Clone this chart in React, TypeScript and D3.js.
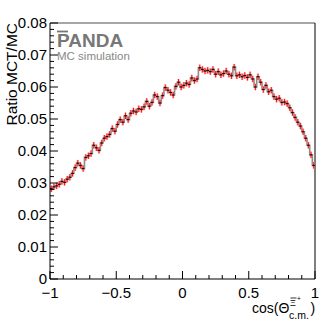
import React from "react";
import * as d3 from "d3";

const binValues: number[] = [
  0.0282, 0.0288, 0.0291, 0.0296, 0.0305, 0.0302, 0.0312, 0.0318, 0.0330, 0.0348,
  0.0362, 0.0355, 0.0345, 0.0380, 0.0385, 0.0392, 0.0418, 0.0410, 0.0402, 0.0425,
  0.0440, 0.0445, 0.0452, 0.0470, 0.0462, 0.0483, 0.0498, 0.0490, 0.0510, 0.0498,
  0.0518, 0.0525, 0.0522, 0.0532, 0.0530, 0.0538, 0.0555, 0.0540, 0.0552, 0.0575,
  0.0570, 0.0550, 0.0573, 0.0598, 0.0590, 0.0583, 0.0575, 0.0602, 0.0615, 0.0600,
  0.0605, 0.0612, 0.0608, 0.0628, 0.0620, 0.0625, 0.0660, 0.0655, 0.0650, 0.0652,
  0.0648, 0.0655, 0.0640, 0.0648, 0.0638, 0.0642, 0.0650, 0.0640, 0.0635, 0.0662,
  0.0635, 0.0638, 0.0632, 0.0636, 0.0630, 0.0638, 0.0625, 0.0600, 0.0632, 0.0615,
  0.0592, 0.0605, 0.0585, 0.0590, 0.0570, 0.0562, 0.0565, 0.0552, 0.0553, 0.0548,
  0.0535, 0.0520, 0.0505, 0.0490, 0.0478, 0.0460, 0.0440, 0.0418, 0.0388, 0.0355,
];
const binError = 0.001;
const xRange: [number, number] = [-1, 1];
const yRange: [number, number] = [0, 0.08];
const xMajorTicks = [-1, -0.5, 0, 0.5, 1];
const xTickLabels = ["\u22121", "\u22120.5", "0", "0.5", "1"];
const yMajorTicks = [0, 0.01, 0.02, 0.03, 0.04, 0.05, 0.06, 0.07, 0.08];
const yTickLabels = ["0", "0.01", "0.02", "0.03", "0.04", "0.05", "0.06", "0.07", "0.08"];

const L = 50, R = 315, T = 23, B = 279;
const FONT = "'Liberation Sans', Arial, Helvetica, sans-serif";

export default function App() {
  const x = d3.scaleLinear().domain(xRange).range([L, R]);
  const y = d3.scaleLinear().domain(yRange).range([B, T]);
  const n = binValues.length;
  const w = (xRange[1] - xRange[0]) / n;
  const bins = binValues.map((v, i) => ({
    lo: xRange[0] + i * w,
    hi: xRange[0] + (i + 1) * w,
    v,
  }));

  let pathD = "";
  bins.forEach((b, i) => {
    if (i === 0) pathD += `M${x(b.lo)},${y(b.v)}`;
    else pathD += `L${x(b.lo)},${y(b.v)}`;
    pathD += `L${x(b.hi)},${y(b.v)}`;
  });

  const xMinor = d3.range(-10, 11).map((k) => k / 10).filter((t) => !xMajorTicks.some((m) => Math.abs(m - t) < 1e-9));
  const yMinor = d3.range(0, 41).map((k) => k * 0.002).filter((t) => !yMajorTicks.some((m) => Math.abs(m - t) < 1e-9));

  return (
    <svg width={332} height={325} style={{ position: "absolute", left: 0, top: 0, background: "#fff" }} fontFamily={FONT}>
      <rect x={0} y={0} width={332} height={325} fill="#fff" />
      {/* frame */}
      <line x1={L} x2={R} y1={T} y2={T} stroke="#888" strokeWidth={1.3} />
      <line x1={R} x2={R} y1={T} y2={B} stroke="#000" strokeWidth={1} />

      {/* gray histogram */}
      <path d={pathD} fill="none" stroke="#8a8a8a" strokeWidth={1.6} />
      {/* error bars */}
      {bins.map((b, i) => {
        const cx = x((b.lo + b.hi) / 2);
        return (
          <g key={"e" + i}>
            <rect x={cx - 1.2} y={y(b.v + binError)} width={2.4} height={y(b.v - binError) - y(b.v + binError)} fill="#ff8080" opacity={0.55} />
            <line x1={cx} x2={cx} y1={y(b.v + binError)} y2={y(b.v - binError)} stroke="#f00" strokeWidth={0.9} />
          </g>
        );
      })}
      {/* black horizontal segments */}
      {bins.map((b, i) => (
        <line key={"h" + i} x1={x(b.lo)} x2={x(b.hi)} y1={y(b.v)} y2={y(b.v)} stroke="#000" strokeWidth={1} />
      ))}

      {/* axes */}
      <line x1={L} x2={L} y1={T} y2={B} stroke="#000" strokeWidth={1} />
      <line x1={L} x2={R} y1={B} y2={B} stroke="#000" strokeWidth={1} />
      {yMajorTicks.map((t, i) => (
        <g key={"ym" + i}>
          <line x1={L} x2={L + 8} y1={y(t)} y2={y(t)} stroke="#000" />
          <text x={L - 3} y={y(t) + 5} fontSize={15} textAnchor="end" fill="#000">{yTickLabels[i]}</text>
        </g>
      ))}
      {yMinor.map((t, i) => (
        <line key={"yn" + i} x1={L} x2={L + 4} y1={y(t)} y2={y(t)} stroke="#000" />
      ))}
      {xMajorTicks.map((t, i) => (
        <g key={"xm" + i}>
          <line x1={x(t)} x2={x(t)} y1={B} y2={B - 8} stroke="#000" />
          <text x={x(t)} y={298} fontSize={15} textAnchor="middle" fill="#000">{xTickLabels[i]}</text>
        </g>
      ))}
      {xMinor.map((t, i) => (
        <line key={"xn" + i} x1={x(t)} x2={x(t)} y1={B} y2={B - 4} stroke="#000" />
      ))}

      {/* axis titles */}
      <text transform={`translate(17,${T}) rotate(-90)`} fontSize={15.5} textAnchor="end" fill="#000">Ratio MCT/MC</text>
      <g fill="#000">
        <text x={252} y={313} fontSize={14}>cos(Θ</text>
        <text x={290} y={306} fontSize={9}>Ξ</text>
        <line x1={290.5} x2={296.5} y1={298} y2={298} stroke="#000" strokeWidth={0.8} />
        <text x={297} y={301} fontSize={6.5}>+</text>
        <text x={289} y={319} fontSize={10.5}>c.m.</text>
        <text x={310.5} y={313} fontSize={14}>)</text>
      </g>

      {/* logo */}
      <text x={57} y={47} fontSize={19} fontWeight="bold" fill="#777">PANDA</text>
      <line x1={57} x2={68} y1={31.5} y2={31.5} stroke="#777" strokeWidth={1.8} />
      <text x={57} y={60} fontSize={11.5} fill="#888">MC simulation</text>
    </svg>
  );
}
